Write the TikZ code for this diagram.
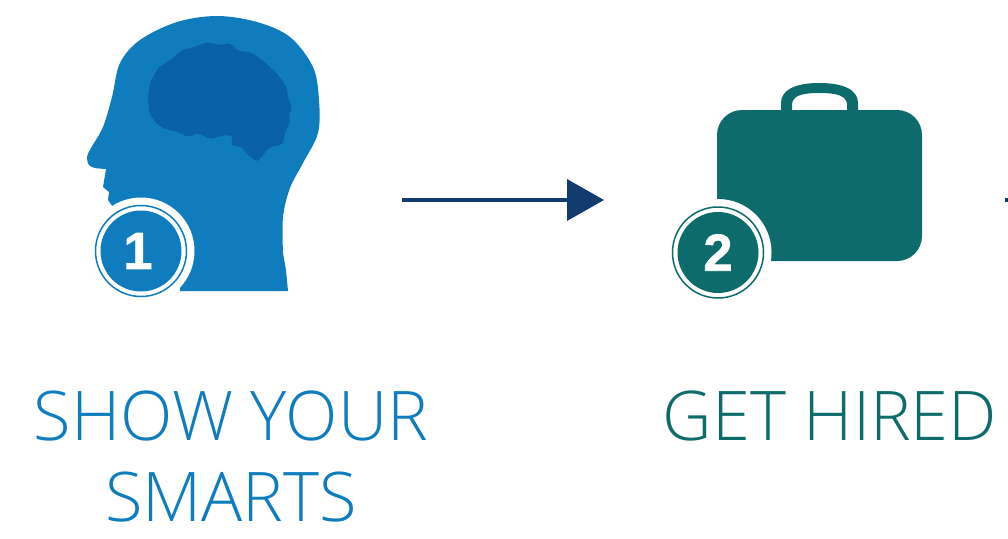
\documentclass[tikz,border=0pt]{standalone}
\usepackage{fontspec}
\usepackage{xcolor}
\usetikzlibrary{arrows.meta}
\setmainfont{Open Sans}
\newfontfamily\ThinFont{Open Sans Light}
\newfontfamily\HeavyFont[FakeBold=1.5]{Liberation Sans Bold}
\definecolor{ColHead}{RGB}{15,124,190}
\definecolor{ColBrain}{RGB}{8,96,168}
\definecolor{ColCase}{RGB}{14,107,107}
\definecolor{ColArrow}{RGB}{18,60,110}
\tikzstyle{Halo}=[circle,fill=white,inner sep=0pt,minimum size=107pt]
\tikzstyle{Ring}=[circle,draw=#1,fill=white,line width=1.5pt,inner sep=0pt,minimum size=91pt]
\tikzstyle{Badge}=[circle,fill=#1,text=white,inner sep=0pt,minimum size=81pt,
font=\HeavyFont\fontsize{52}{52}\selectfont]
\tikzstyle{Caption}=[text=#1,align=center,anchor=base,inner sep=0pt,
font=\ThinFont\fontsize{68.5}{81}\selectfont]
\tikzstyle{EdgeFlow}=[ColArrow,line width=4pt,-{Triangle[length=37pt,width=41pt]}]
\begin{document}
\begin{tikzpicture}[x=1pt,y=-1pt]
        \useasboundingbox(0,0)rectangle(1008,538);
        % head
        \fill[ColHead](288,291)--(286,270)--plot[smooth,tension=.55]coordinates{(283,253)(283,217)(290,188)(303,163)
            (318,133)(319,100)(313,67)(290,37)(257,22)(217,16)(177,22)(140,40)(120,63)(112,97)(103,127)(91,148)
            (87,157)(89,165)(95,168)(106,169)}--(103,187)--(109,192)--(108,200)--(113,207)--(180,250)--(180,291)--cycle;
        \fill[ColBrain,rounded corners=3pt](257,162)--(247,154)--(242,147)--(231,145)--(233,136)--(225,135)--(210,139)
            --(198,133)--(188,137)--(178,132)--(163,128)--(155,122)--(149,112)--(148,97)--(150,83)--(158,68)--(170,60)
            --(182,50)--(195,47)--(207,42)--(218,45)--(230,43)--(238,51)--(250,52)--(260,58)--(270,67)--(280,77)
            --(287,88)--(288,98)--(292,107)--(289,115)--(290,123)--(285,132)--(283,144)--(270,147)--(263,155)--cycle;
        % case
        \fill[ColCase,rounded corners=25pt](717,110)rectangle(922,261);
        \fill[ColCase,even odd rule](781,111)--(781,103)..controls(781,90)and(795,83)..(819,83)
            ..controls(844,83)and(858,90)..(858,103)--(858,111)--cycle
            (792,111)--(847,111)--(847,104)..controls(846,96)and(838,93)..(819,93)
            ..controls(801,93)and(793,96)..(792,104)--cycle;
        % badges
        \node[Halo](haloA)at(141,251){};
        \node[Ring=ColHead](ringA)at(141,251){};
        \node[Badge=ColHead](badgeA)at(141,251){\kern-6pt1};
        \node[Halo](haloB)at(718,252.5){};
        \node[Ring=ColCase](ringB)at(718,252.5){};
        \node[Badge=ColCase](badgeB)at(718,252.5){2};
        % arrows
        \coordinate(startA)at(402,200);
        \coordinate(endA)at(604,200);
        \coordinate(startB)at(1005,200);
        \coordinate(endB)at(1008,200);
        \draw[EdgeFlow](startA)--(endA);
        \draw[ColArrow,line width=4pt](startB)--(endB);
        % captions
        \node[Caption=ColHead](smarts)at(231,521){SHOW YOUR\\SMARTS};
        \node[Caption=ColCase](hired)at(830,440){GET HIRED};
\end{tikzpicture}
\end{document}
